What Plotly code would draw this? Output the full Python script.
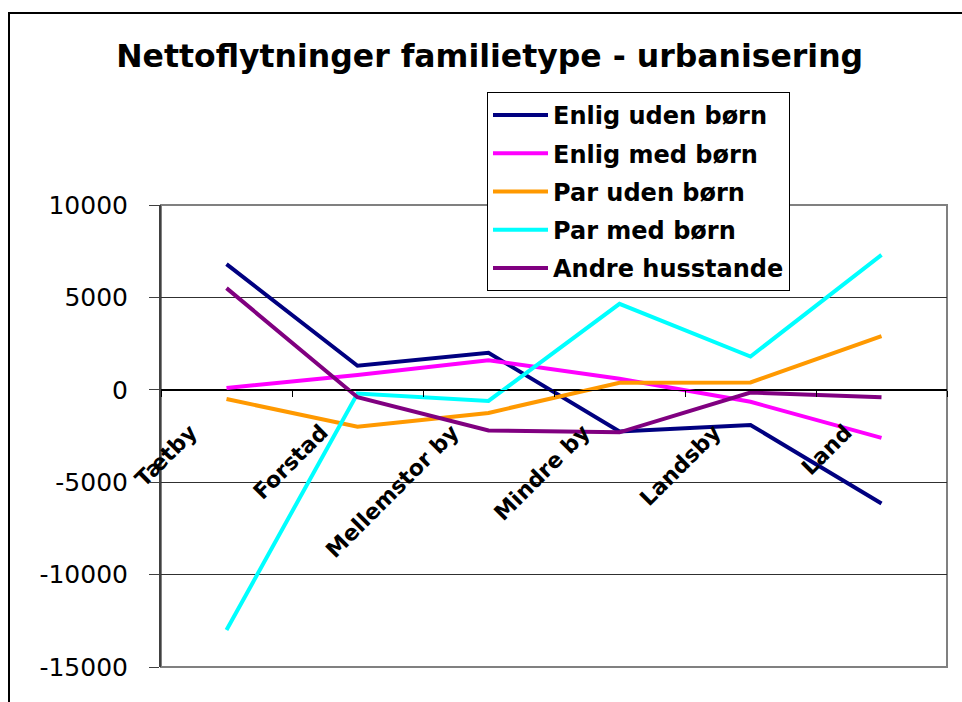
import plotly.graph_objects as go

categories = ["Tætby", "Forstad", "Mellemstor by", "Mindre by", "Landsby", "Land"]

enlig_uden_boern = [6800, 1300, 2000, -2250, -1900, -6150]
enlig_med_boern = [100, 800, 1600, 600, -650, -2600]
par_uden_boern = [-500, -2000, -1250, 380, 400, 2900]
par_med_boern = [-13000, -200, -600, 4650, 1800, 7300]
andre_husstande = [5500, -400, -2200, -2300, -150, -400]

series_names = ["Enlig uden børn", "Enlig med børn", "Par uden børn",
                "Par med børn", "Andre husstande"]
series_values = [enlig_uden_boern, enlig_med_boern, par_uden_boern,
                 par_med_boern, andre_husstande]
series_colors = ["#000080", "#FF00FF", "#FF9900", "#00FFFF", "#800080"]

y_ticks = [10000, 5000, 0, -5000, -10000, -15000]
y_range = [-15000, 10000]

title_text = "Nettoflytninger familietype - urbanisering"

fig = go.Figure()
for name, vals, col in zip(series_names, series_values, series_colors):
    fig.add_trace(go.Scatter(
        x=categories, y=vals, name=name, mode="lines",
        line=dict(color=col, width=4), legendgroup=name,
    ))

FONT = "DejaVu Sans"

fig.update_layout(
    width=962, height=702,
    margin=dict(l=161, r=15, t=205, b=35),
    paper_bgcolor="white", plot_bgcolor="white",
    showlegend=True,
    title=dict(text="<b>" + title_text + "</b>", x=0.509, xanchor="center",
               y=1 - 56 / 702, yanchor="middle", yref="container",
               font=dict(family=FONT, size=31.5, color="black")),
    legend=dict(x=(487 - 161) / 786, y=(667 - 92) / 462, xanchor="left", yanchor="top",
                bgcolor="white", bordercolor="black", borderwidth=1,
                font=dict(family=FONT, size=24, color="black", weight="bold"),
                tracegroupgap=4, traceorder="grouped", itemwidth=55),
    xaxis=dict(type="category", categoryorder="array", categoryarray=categories,
               range=[-0.5, 5.5], anchor="free", position=0.6,
               tickson="boundaries", ticks="outside", ticklen=6, tickcolor="black",
               showgrid=False, showline=True, linecolor="black", linewidth=1,
               tickangle=-45, ticklabelshift=-36, ticklabelstandoff=20,
               tickfont=dict(family=FONT, size=22, color="black", weight="bold")),
    yaxis=dict(range=y_range, tickvals=y_ticks, ticktext=[str(v) for v in y_ticks],
               ticks="outside", ticklen=10, tickcolor="#404040",
               showline=True, linecolor="#404040", linewidth=2,
               showgrid=True, gridcolor="#303030", gridwidth=1,
               zeroline=True, zerolinecolor="black", zerolinewidth=1,
               ticklabelstandoff=16,
               tickfont=dict(family=FONT, size=25, color="black")),
    shapes=[
        dict(type="rect", xref="paper", yref="paper", x0=0, x1=1, y0=0, y1=1,
             line=dict(color="#808080", width=2), layer="below"),
        dict(type="rect", xref="paper", yref="paper",
             x0=(9 - 161) / 786, x1=(1000 - 161) / 786,
             y0=(667 - 740) / 462, y1=(667 - 13) / 462,
             line=dict(color="black", width=2), layer="below"),
    ],
)

fig.write_html("out.html", config={"displayModeBar": False},
               post_script="document.body.style.margin='0';")
